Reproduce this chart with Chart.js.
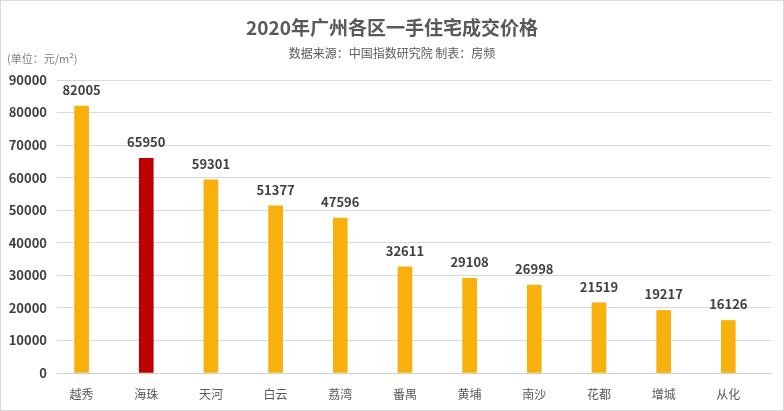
<!DOCTYPE html>
<html>
<head>
<meta charset="utf-8">
<script src="https://cdn.jsdelivr.net/npm/chart.js@4/dist/chart.umd.min.js"></script>
<style>
html,body{margin:0;padding:0;background:#fff;}
#wrap{position:relative;width:784px;height:411px;box-sizing:border-box;border:1px solid #d9d9d9;}
canvas{display:block;}
</style>
</head>
<body>
<div id="wrap"><canvas id="c" width="782" height="409"></canvas></div>
<script>
const categories = ['越秀','海珠','天河','白云','荔湾','番禺','黄埔','南沙','花都','增城','从化'];
const prices = [82005, 65950, 59301, 51377, 47596, 32611, 29108, 26998, 21519, 19217, 16126];
const barColors = ['#F8B00C','#C00000','#F8B00C','#F8B00C','#F8B00C','#F8B00C','#F8B00C','#F8B00C','#F8B00C','#F8B00C','#F8B00C'];
const yTicks = [0,10000,20000,30000,40000,50000,60000,70000,80000,90000];
const titleText = '2020年广州各区一手住宅成交价格';
const subtitleText = '数据来源：中国指数研究院 制表：房频';
const unitText = '(单位：元/m²)';

const FONT = '"Noto Sans CJK SC","Noto Sans",sans-serif';

const textPlugin = {
  id: 'texts',
  afterDraw(chart) {
    const ctx = chart.ctx;
    ctx.save();
    ctx.fillStyle = '#595959';
    ctx.textAlign = 'center';
    ctx.textBaseline = 'middle';
    ctx.font = 'bold 19px ' + FONT;
    ctx.fillText(titleText, 391, 27);
    ctx.font = '12px ' + FONT;
    ctx.fillText(subtitleText, 391, 52);
    ctx.textAlign = 'left';
    ctx.fillStyle = '#7f7f7f';
    ctx.font = '11px ' + FONT;
    ctx.fillText(unitText, 6, 58);
    // data labels
    const meta = chart.getDatasetMeta(0);
    ctx.fillStyle = '#404040';
    ctx.textAlign = 'center';
    ctx.font = 'bold 13px ' + FONT;
    meta.data.forEach((el, i) => {
      ctx.fillText(String(prices[i]), el.x, el.y - 16);
    });
    ctx.restore();
  }
};

new Chart(document.getElementById('c'), {
  type: 'bar',
  data: {
    datasets: [{
      data: prices.map((v, i) => ({x: i, y: v})),
      backgroundColor: barColors,
      barThickness: 14,
      borderWidth: 0
    }]
  },
  options: {
    responsive: false,
    animation: false,
    layout: { padding: { top: 79, bottom: 9, left: 0, right: 12 } },
    plugins: { legend: { display: false }, tooltip: { enabled: false } },
    scales: {
      x: {
        type: 'linear',
        offset: false,
        min: -0.38,
        max: 10.66,
        grid: { display: false, drawTicks: false },
        border: { display: true, color: '#d0d0d0', width: 1 },
        afterBuildTicks: (scale) => { scale.ticks = categories.map((c, i) => ({value: i})); },
        afterFit: (scale) => { scale.height = 28; },
        ticks: {
          autoSkip: false,
          maxRotation: 0,
          padding: 14,
          color: '#595959',
          font: { size: 12, family: FONT },
          callback: (v) => categories[v]
        }
      },
      y: {
        min: 0,
        max: 90000,
        afterBuildTicks: (scale) => { scale.ticks = yTicks.map(v => ({value: v})); },
        grid: { color: '#d9d9d9', drawTicks: false, lineWidth: 1 },
        border: { display: false },
        afterFit: (scale) => { scale.width = 56; },
        ticks: {
          padding: 10,
          color: '#404040',
          font: { size: 13, weight: 'bold', family: FONT },
          callback: (v) => String(v)
        }
      }
    }
  },
  plugins: [textPlugin]
});
</script>
</body>
</html>
